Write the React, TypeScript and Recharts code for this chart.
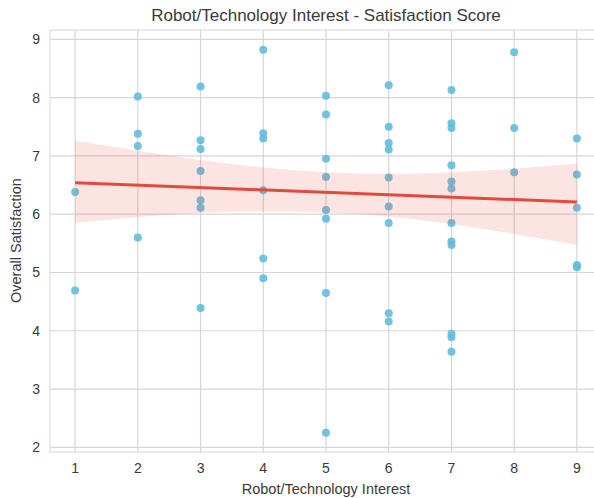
import React from 'react'
import { Area, CartesianGrid, ComposedChart, Line, ReferenceLine, Scatter, XAxis, YAxis } from 'recharts'

// observed answers: interest score (x) and overall satisfaction (y)
const interest = [
    1, 1,
    2, 2, 2, 2,
    3, 3, 3, 3, 3, 3, 3,
    4, 4, 4, 4, 4, 4,
    5, 5, 5, 5, 5, 5, 5, 5,
    6, 6, 6, 6, 6, 6, 6, 6, 6,
    7, 7, 7, 7, 7, 7, 7, 7, 7, 7, 7, 7,
    8, 8, 8,
    9, 9, 9, 9, 9,
]
const satisfaction = [
    6.38, 4.69,
    8.02, 7.38, 7.17, 5.60,
    8.19, 7.27, 7.12, 6.74, 6.24, 6.11, 4.39,
    8.82, 7.39, 7.30, 6.41, 5.24, 4.90,
    8.03, 7.71, 6.95, 6.64, 6.07, 5.92, 4.65, 2.25,
    8.21, 7.50, 7.22, 7.11, 6.63, 6.13, 5.85, 4.30, 4.16,
    8.13, 7.56, 7.48, 6.84, 6.56, 6.44, 5.85, 5.53, 5.47, 3.95, 3.89, 3.64,
    8.78, 7.48, 6.72,
    7.30, 6.68, 6.11, 5.13, 5.09,
]

// regression fit and its confidence band
const bandX = [1, 2, 3, 4, 5, 6, 7, 8, 9]
const bandLow = [5.85, 5.95, 6.02, 6.05, 6.03, 5.96, 5.83, 5.66, 5.47]
const bandHigh = [7.26, 7.09, 6.93, 6.80, 6.72, 6.69, 6.72, 6.78, 6.87]
const fitX = [1, 9]
const fitY = [6.54, 6.21]

const xTicks = [1, 2, 3, 4, 5, 6, 7, 8, 9]
const yTicks = [2, 3, 4, 5, 6, 7, 8, 9]
const xDomain: [number, number] = [0.6, 9.4]
const yDomain: [number, number] = [1.92, 9.16]

const points = interest.map((x, i) => ({ x, y: satisfaction[i] }))
const band = bandX.map((x, i) => {
    const fi = fitX.indexOf(x)
    return { x, band: [bandLow[i], bandHigh[i]], fit: fi >= 0 ? fitY[fi] : undefined }
})

const FONT = '"Liberation Sans", Arial, sans-serif'
const GRID = '#d6d6d6'
const TEXT = '#3a3a3a'
const DOT = '#62bcdb'

export default function App() {
    return (
        <div style={{ position: 'absolute', left: 0, top: 0, width: 594, height: 498, overflow: 'hidden', background: '#fff', fontFamily: FONT }}>
            <div style={{ position: 'absolute', top: 6, left: 50, width: 552, textAlign: 'center', fontSize: 17, color: TEXT }}>
                Robot/Technology Interest - Satisfaction Score
            </div>
            <ComposedChart width={610} height={498} data={band} margin={{ top: 30, right: 8, bottom: 0, left: 0 }}>
                <CartesianGrid stroke={GRID} strokeWidth={1.2} horizontalValues={yTicks} verticalValues={xTicks} />
                <XAxis
                    type="number"
                    dataKey="x"
                    domain={xDomain}
                    ticks={xTicks}
                    allowDataOverflow
                    height={46}
                    tickSize={0}
                    tickMargin={11}
                    stroke={GRID}
                    tick={{ fill: TEXT, fontSize: 14, fontFamily: FONT }}
                    label={{ value: 'Robot/Technology Interest', position: 'insideBottom', offset: 4, fill: TEXT, fontSize: 14.5, fontFamily: FONT }}
                />
                <YAxis
                    type="number"
                    domain={yDomain}
                    ticks={yTicks}
                    allowDataOverflow
                    width={50}
                    tickSize={0}
                    tickMargin={10}
                    stroke={GRID}
                    tick={{ fill: TEXT, fontSize: 14, fontFamily: FONT }}
                    label={{ value: 'Overall Satisfaction', angle: -90, position: 'insideLeft', offset: 16, dy: 62, fill: TEXT, fontSize: 14.5, fontFamily: FONT }}
                />
                <ReferenceLine y={yDomain[1]} stroke={GRID} strokeWidth={1.2} />
                <Scatter data={points} dataKey="y" fill={DOT} zIndex={50} shape={(p: any) => <circle cx={p.cx} cy={p.cy} r={4} fill={DOT} fillOpacity={0.9} />} isAnimationActive={false} />
                <Area dataKey="band" type="monotone" fill="#e74c3c" fillOpacity={0.15} stroke="none" zIndex={60} isAnimationActive={false} />
                <Line dataKey="fit" connectNulls stroke="#e04b3c" strokeWidth={3} dot={false} activeDot={false} zIndex={70} isAnimationActive={false} />
            </ComposedChart>
        </div>
    )
}
